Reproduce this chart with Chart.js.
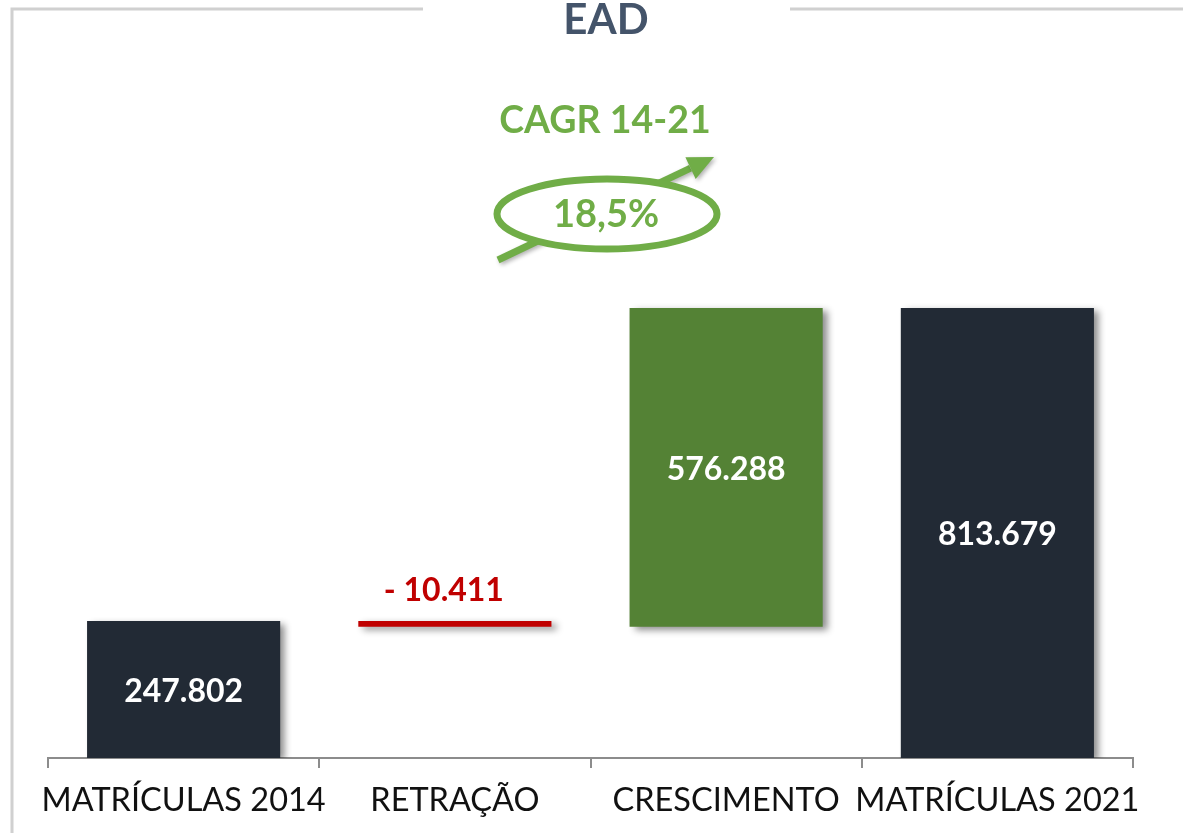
<!DOCTYPE html>
<html>
<head>
<meta charset="utf-8">
<script src="https://cdn.jsdelivr.net/npm/chart.js@4"></script>
<style>
  body { margin: 0; background: #fff; }
  canvas { display: block; }
</style>
</head>
<body>
<canvas id="eadChart" width="1183" height="833"></canvas>
<script>
// waterfall data
const categories = ['MATRÍCULAS 2014', 'RETRAÇÃO', 'CRESCIMENTO', 'MATRÍCULAS 2021'];
const values = [247802, -10411, 576288, 813679];
const isTotal = [true, false, false, true];
const barColors = ['#222a35', '#c00000', '#548235', '#222a35'];
const chartTitle = 'EAD';
const cagrTitle = 'CAGR 14-21';
const cagrValue = '18,5%';

// build floating bars from the running total
let running = 0;
const floating = values.map((v, i) => {
    if (isTotal[i]) { running = v; return [0, v]; }
    const start = running;
    running += v;
    return [Math.min(start, running), Math.max(start, running)];
});

function fmt(n){
    const s = String(Math.abs(n)).replace(/\B(?=(\d{3})+(?!\d))/g, '.');
    return n < 0 ? '- ' + s : s;
}

const GREEN = '#70ad47';

const decorPlugin = {
    id: 'decor',
    beforeDraw(chart){
        const ctx = chart.ctx;
        ctx.save();
        ctx.fillStyle = '#fff';
        ctx.fillRect(0, 0, chart.width, chart.height);
        // frame lines
        ctx.strokeStyle = '#d0d0d0';
        ctx.lineWidth = 3;
        ctx.beginPath();
        ctx.moveTo(12, 833); ctx.lineTo(12, 9); ctx.lineTo(423, 9);
        ctx.moveTo(790, 9); ctx.lineTo(1183, 9);
        ctx.stroke();
        // title
        ctx.fillStyle = '#44546a';
        ctx.font = 'bold 42px Lato';
        ctx.textAlign = 'center';
        ctx.textBaseline = 'middle';
        ctx.fillText(chartTitle, 606, 20);
        ctx.restore();
    },
    beforeDatasetsDraw(chart){
        const ctx = chart.ctx;
        ctx.save();
        ctx.shadowColor = 'rgba(0,0,0,0.45)';
        ctx.shadowBlur = 7;
        ctx.shadowOffsetX = 5;
        ctx.shadowOffsetY = 3;
    },
    afterDatasetsDraw(chart){
        const ctx = chart.ctx;
        ctx.restore();
        // value labels
        const meta = chart.getDatasetMeta(0);
        ctx.save();
        ctx.textAlign = 'center';
        ctx.textBaseline = 'middle';
        ctx.font = 'bold 32px Lato';
        meta.data.forEach((bar, i) => {
            if (values[i] < 0) {
                ctx.fillStyle = '#c00000';
                ctx.fillText(fmt(values[i]), bar.x - 11, bar.y - 30);
            } else {
                ctx.fillStyle = '#ffffff';
                ctx.fillText(fmt(values[i]), bar.x, (bar.y + bar.base) / 2 + 2);
            }
        });

        // CAGR annotation
        ctx.fillStyle = GREEN;
        ctx.font = 'bold 37.5px Lato';
        ctx.fillText(cagrTitle, 605, 121);

        // arrow
        ctx.save();
        ctx.shadowColor = 'rgba(0,0,0,0.3)';
        ctx.shadowBlur = 4;
        ctx.shadowOffsetX = 2;
        ctx.shadowOffsetY = 2;
        const x0 = 498, y0 = 260, x1 = 714, y1 = 157;
        const ang = Math.atan2(y1 - y0, x1 - x0);
        const headLen = 26, headW = 12;
        const bx = x1 - headLen * Math.cos(ang), by = y1 - headLen * Math.sin(ang);
        ctx.strokeStyle = GREEN;
        ctx.lineWidth = 7;
        ctx.beginPath();
        ctx.moveTo(x0, y0); ctx.lineTo(bx, by);
        ctx.stroke();
        ctx.fillStyle = GREEN;
        ctx.beginPath();
        ctx.moveTo(x1, y1);
        ctx.lineTo(bx + headW * Math.sin(ang), by - headW * Math.cos(ang));
        ctx.lineTo(bx - headW * Math.sin(ang), by + headW * Math.cos(ang));
        ctx.closePath();
        ctx.fill();
        ctx.restore();

        // ellipse
        ctx.beginPath();
        ctx.ellipse(607, 214, 110, 35, 0, 0, Math.PI * 2);
        ctx.fillStyle = '#fff';
        ctx.fill();
        ctx.lineWidth = 7;
        ctx.strokeStyle = GREEN;
        ctx.stroke();
        ctx.fillStyle = GREEN;
        ctx.font = 'bold 38px Lato';
        ctx.fillText(cagrValue, 606, 215);
        ctx.restore();
    }
};

const data = {
    labels: categories,
    datasets: [{
        data: floating,
        backgroundColor: barColors,
        borderWidth: 0,
        categoryPercentage: 1,
        barPercentage: 0.712
    }]
};

const config = {
    type: 'bar',
    data: data,
    plugins: [decorPlugin],
    options: {
        responsive: false,
        animation: false,
        layout: { padding: { left: 48, right: 50, top: 205, bottom: 0 } },
        plugins: { legend: { display: false }, tooltip: { enabled: false } },
        scales: {
            x: {
                grid: { offset: true, drawOnChartArea: false, drawTicks: true, tickLength: 10, color: '#8c8c8c', lineWidth: 2 },
                border: { display: true, color: '#8c8c8c', width: 2 },
                ticks: { color: '#111', font: { family: 'Lato', size: 32.5 }, padding: 13, maxRotation: 0, autoSkip: false },
                afterFit(scale){ scale.height = 75; }
            },
            y: { display: false, min: 0, max: 1000000 }
        }
    }
};

new Chart(document.getElementById('eadChart').getContext('2d'), config);
</script>
</body>
</html>
